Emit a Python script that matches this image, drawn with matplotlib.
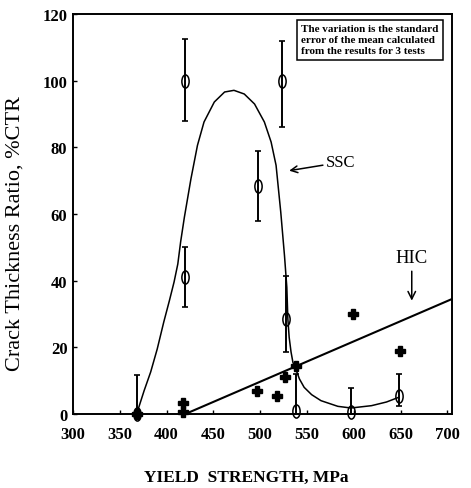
import matplotlib
matplotlib.use("Agg")
import matplotlib.pyplot as plt
import numpy as np
from matplotlib.path import Path

# SSC results (open circles) with standard error of the mean
ssc_x = [368, 420, 420, 498, 523, 528, 538, 597, 648]
ssc_y = [0, 100, 41, 68.5, 100, 28.5, 1, 0.5, 5.5]
ssc_err_lo = [0, 12, 9, 10.5, 14, 10, 1, 0.5, 3]
ssc_err_hi = [11.7, 12.5, 9, 10.5, 12, 13, 11, 7.2, 6.5]

# HIC results (crosses)
hic_x = [368, 418, 418, 497, 518, 527, 538, 599, 649]
hic_y = [0, 0.5, 3.2, 7, 5.3, 11.2, 14.5, 30, 19]

# hand-drawn SSC trend curve
ssc_curve_x = [368, 376, 383, 390, 397, 403, 408, 412, 415, 419, 426, 433, 440, 451, 462, 472,
               483, 494, 504.5, 511.7, 517, 522, 526, 528.5, 529.6, 531, 533, 535, 538, 542,
               547, 555, 565, 583, 597, 619, 635, 648]
ssc_curve_y = [0, 7, 12.6, 19.5, 27.6, 34, 39.6, 45, 51.6, 59, 70.5, 80.6, 87.6, 93.6, 96.6,
               97.1, 96, 93, 87.6, 81.6, 74.6, 60.6, 47.5, 38, 28.5, 23, 18.6, 15.5, 13.5,
               10.5, 8, 5.8, 4, 2.3, 1.8, 2.5, 3.6, 5]

# HIC trend line
hic_line_x = [420, 705]
hic_line_y = [0, 34.5]

plt.rcParams["font.family"] = ["Liberation Serif", "DejaVu Serif"]

fig = plt.figure(figsize=(4.71, 4.89), dpi=100)
ax = fig.add_axes([73 / 471, 1 - 415 / 489, 379 / 471, 400 / 489])

# oval marker like the original
circ = Path.unit_circle()
oval = Path(circ.vertices * np.array([0.55, 1.0]), circ.codes)

ax.plot(ssc_curve_x, ssc_curve_y, color="black", lw=1.1)
ax.plot(hic_line_x, hic_line_y, color="black", lw=1.5)

ax.errorbar(ssc_x, ssc_y, yerr=[ssc_err_lo, ssc_err_hi], fmt="none", ecolor="black",
            elinewidth=1.4, capsize=2, capthick=1.2)
ax.plot(ssc_x, ssc_y, linestyle="none", marker=oval, markersize=9.5, markerfacecolor="none",
        markeredgecolor="black", markeredgewidth=1.1, clip_on=False)
ax.plot(hic_x, hic_y, linestyle="none", marker="P", markersize=7, color="black", clip_on=False)

ax.annotate("SSC", xy=(531, 73), xytext=(570, 75.5), fontsize=12, va="center",
            arrowprops=dict(arrowstyle="->", color="black", lw=1.1, shrinkA=0, shrinkB=0))
ax.annotate("HIC", xy=(662, 34), xytext=(662, 44.5), fontsize=13.5, ha="center", va="bottom",
            arrowprops=dict(arrowstyle="->", color="black", lw=1.1, shrinkA=2, shrinkB=0))

ax.text(0.602, 0.975, "The variation is the standard\nerror of the mean calculated\nfrom the results for 3 tests",
        transform=ax.transAxes, fontsize=8, fontweight="bold", va="top", ha="left",
        multialignment="left", linespacing=1.3,
        bbox=dict(boxstyle="square,pad=0.4", facecolor="white", edgecolor="black", lw=1.1))

ax.set_xlim(300, 705)
ax.set_ylim(0, 120)
ax.set_xticks(np.arange(300, 701, 50))
ax.set_yticks(np.arange(0, 121, 20))
ax.tick_params(axis="x", direction="in", length=3, width=1, labelsize=12, pad=9)
ax.tick_params(axis="y", direction="in", length=3, width=1, labelsize=12, pad=4)
for lab in ax.get_xticklabels() + ax.get_yticklabels():
    lab.set_fontweight("bold")
for sp in ax.spines.values():
    sp.set_linewidth(1.4)

ax.set_ylabel("Crack Thickness Ratio, %CTR", fontsize=16, labelpad=8)
ax.yaxis.set_label_coords(-0.128, 0.4525)
ax.set_xlabel("YIELD  STRENGTH, MPa", fontsize=12.5, fontweight="bold")
ax.xaxis.set_label_coords(0.456, -0.1375)

fig.savefig("out.png", dpi=100)
